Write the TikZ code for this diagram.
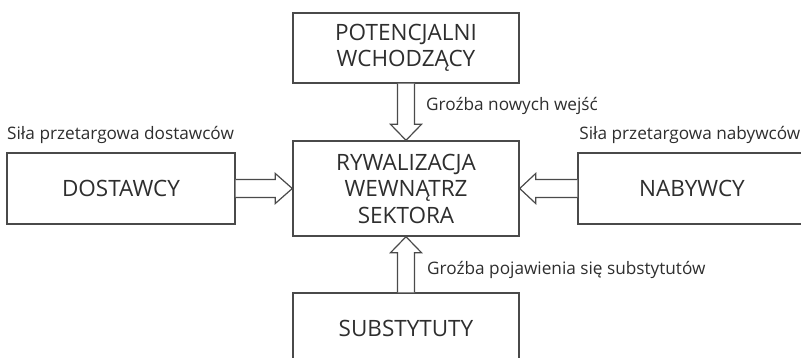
\documentclass[tikz,border=0pt]{standalone}
\usepackage{fontspec}
\setmainfont{Open Sans}
\usetikzlibrary{calc}
\definecolor{edge}{HTML}{4A4A4A}
\definecolor{ink}{HTML}{2E2E2E}
\begin{document}
\begin{tikzpicture}[x=1pt,y=-1pt,
  force/.style={draw=edge,line width=1.4pt,fill=white,text=ink,inner sep=0pt,
    align=center,font=\fontsize{22.5}{26.5}\selectfont},
  label/.style={anchor=west,inner sep=0pt,text=ink,font=\fontsize{17.2}{19}\selectfont},
  blockarrow/.style={draw=edge,line width=1.2pt,fill=white,line join=miter}]
\useasboundingbox (0,0) rectangle (801,358);
\begin{scope}
\clip (0,0) rectangle (801,358);
% the five forces
\node[force,minimum width=226,minimum height=70] (entrants) at (406,48) {POTENCJALNI\\WCHODZĄCY};
\node[force,minimum width=226,minimum height=95] (rivalry) at (406,188.5) {RYWALIZACJA\\WEWNĄTRZ\\SEKTORA};
\node[force,minimum width=228,minimum height=71] (suppliers) at (121,188.5) {DOSTAWCY};
\node[force,minimum width=228,minimum height=71] (buyers) at (692,188.5) {NABYWCY};
\node[force,minimum width=226,minimum height=70] (substitutes) at (406,328) {SUBSTYTUTY};
\end{scope}
% block arrows pointing into the rivalry box
\draw[blockarrow] ($(entrants.south)+(-8.5,0)$) -- ($(rivalry.north)+(-8.5,-16)$) -- ($(rivalry.north)+(-15.5,-16)$)
  -- (rivalry.north) -- ($(rivalry.north)+(15.5,-16)$) -- ($(rivalry.north)+(8.5,-16)$) -- ($(entrants.south)+(8.5,0)$);
\draw[blockarrow] ($(substitutes.north)+(-8.5,0)$) -- ($(rivalry.south)+(-8.5,16)$) -- ($(rivalry.south)+(-15.5,16)$)
  -- (rivalry.south) -- ($(rivalry.south)+(15.5,16)$) -- ($(rivalry.south)+(8.5,16)$) -- ($(substitutes.north)+(8.5,0)$);
\draw[blockarrow] ($(suppliers.east)+(0,-9)$) -- ($(rivalry.west)+(-17,-9)$) -- ($(rivalry.west)+(-17,-15)$)
  -- (rivalry.west) -- ($(rivalry.west)+(-17,15)$) -- ($(rivalry.west)+(-17,9)$) -- ($(suppliers.east)+(0,9)$);
\draw[blockarrow] ($(buyers.west)+(0,-9)$) -- ($(rivalry.east)+(16,-9)$) -- ($(rivalry.east)+(16,-15)$)
  -- (rivalry.east) -- ($(rivalry.east)+(16,15)$) -- ($(rivalry.east)+(16,9)$) -- ($(buyers.west)+(0,9)$);
% force labels
\node[label] (lblnew) at (426,106) {Groźba nowych wejść};
\node[label] (lblsup) at (7,135) {Siła przetargowa dostawców};
\node[label,anchor=east] (lblbuy) at (800.5,135) {Siła przetargowa nabywców};
\node[label] (lblsub) at (427,270) {Groźba pojawienia się substytutów};
\end{tikzpicture}
\end{document}
